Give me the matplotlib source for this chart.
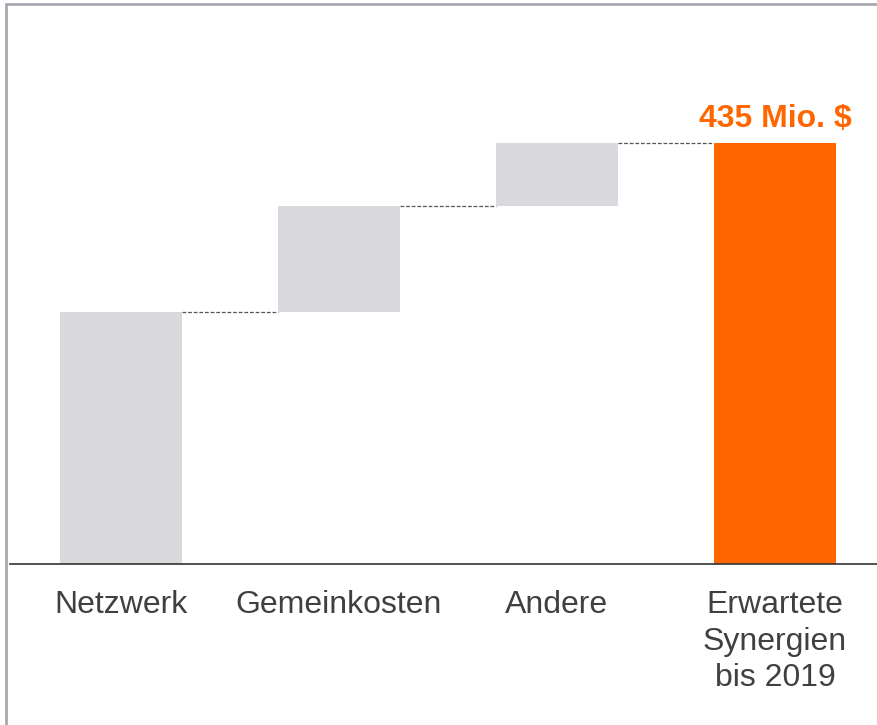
import numpy as np
import matplotlib.pyplot as plt
from matplotlib.patches import Rectangle

plt.rcParams['font.family'] = ['Liberation Sans', 'DejaVu Sans']

labels = ['Netzwerk', 'Gemeinkosten', 'Andere', 'Erwartete\nSynergien\nbis 2019']
steps = [260, 110, 65]
total = 435
total_label = '435 Mio. $'

grey = '#d9d9de'
orange = '#ff6600'

fig = plt.figure(figsize=(8.77, 7.25), dpi=100)
ax = fig.add_axes([10/877, 1-564/725, 1-10/877, (564-10)/725])

x = np.arange(len(labels))
w = 0.56
bottoms = np.concatenate([[0], np.cumsum(steps)[:-1]])
ax.bar(x[:3], steps, bottom=bottoms, width=w, color=grey, zorder=2)
ax.bar(x[3], total, width=w, color=orange, zorder=2)

# dashed connectors
tops = np.cumsum(steps)
for i, t in enumerate(tops):
    ax.plot([x[i] + w/2, x[i+1] - w/2], [t, t], ls=(0, (3, 1.5)), lw=0.9, color='#555555', zorder=1)

ax.text(x[3] + w/2 + 0.07, total + 9, total_label, ha='right', va='bottom',
        fontsize=23, fontweight='bold', color=orange)

ax.set_xlim(-0.509, 3.468)
ax.set_ylim(0, 572)
ax.set_xticks(x)
ax.set_xticklabels(labels, fontsize=23, color='#404040', linespacing=1.28, va='top')
ax.tick_params(axis='x', length=0, pad=19)
ax.set_yticks([])
for s in ['top', 'right', 'left']:
    ax.spines[s].set_visible(False)
ax.spines['bottom'].set_color('#333333')
ax.spines['bottom'].set_linewidth(1.2)
ax.patch.set_alpha(0)

# frame around the picture (only left and top are visible)
fig.patches.append(Rectangle((6/877, -0.1), 1.2, 1.1 - 4/725, transform=fig.transFigure,
                             fill=False, edgecolor='#a8a8b0', lw=2))

fig.savefig('out.png', dpi=100)
